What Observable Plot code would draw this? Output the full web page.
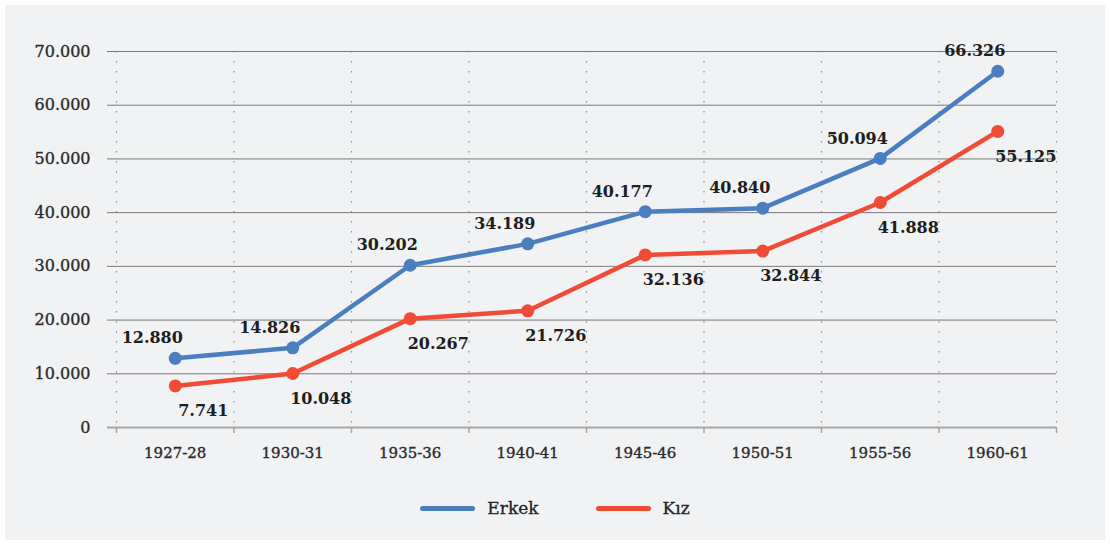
<!DOCTYPE html>
<html>
<head>
<meta charset="utf-8">
<script src="https://cdn.jsdelivr.net/npm/d3@7"></script>
<script src="https://cdn.jsdelivr.net/npm/@observablehq/plot@0.6"></script>
<style>
  html, body { margin: 0; padding: 0; background: #ffffff; }
  #wrap { position: relative; width: 1110px; height: 544px; overflow: hidden; }
  #panel { position: absolute; left: 5px; top: 5px; width: 1100px; height: 535px; background: #f1f2f4; }
  #chart { position: absolute; left: 0; top: 0; }
  #chart svg g[aria-label="y-axis tick label"] text,
  #chart svg g[aria-label="x-axis tick label"] text { stroke: #2a2a2a; stroke-width: 0.35px; }
  #legend { position: absolute; left: 0; top: 496px; width: 1110px; height: 24px; display: flex; justify-content: center; align-items: center; font-family: "DejaVu Serif", serif; font-size: 17px; color: #222; -webkit-text-stroke: 0.3px #222; }
  .item { display: flex; align-items: center; }
  .item + .item { margin-left: 57px; }
  .sw { display: inline-block; width: 55px; height: 5px; border-radius: 3px; margin-right: 12px; }
</style>
</head>
<body>
<div id="wrap">
  <div id="panel"></div>
  <div id="chart"></div>
  <div id="legend"></div>
</div>
<script>
const categories = ["1927-28", "1930-31", "1935-36", "1940-41", "1945-46", "1950-51", "1955-56", "1960-61"];
const erkek = [12880, 14826, 30202, 34189, 40177, 40840, 50094, 66326];
const kiz = [7741, 10048, 20267, 21726, 32136, 32844, 41888, 55125];
const seriesNames = ["Erkek", "Kız"];
const seriesColors = ["#4a7ebf", "#ef4b36"];
const yTicks = [0, 10000, 20000, 30000, 40000, 50000, 60000, 70000];

const locale = d3.formatLocale({decimal: ",", thousands: ".", grouping: [3], currency: ["", ""]});
const fmt = locale.format(",");

const data = [
  ...categories.map((c, i) => ({period: c, value: erkek[i], series: "Erkek"})),
  ...categories.map((c, i) => ({period: c, value: kiz[i], series: "Kız"}))
];

const W = 1110, H = 470, mL = 116, mR = 54, mT = 51, mB = 43;
const step = (W - mL - mR) / categories.length;
const tickLen = 6 * 70000 / (H - mT - mB);
const last = [categories[categories.length - 1]];

const chart = Plot.plot({
  width: W, height: H,
  marginLeft: mL, marginRight: mR, marginTop: mT, marginBottom: mB,
  style: {background: "transparent", fontFamily: "DejaVu Serif, serif", fontSize: "16px", color: "#2a2a2a"},
  x: {type: "point", domain: categories, padding: 0.5, round: false, label: null},
  y: {domain: [0, 70000], label: null},
  color: {domain: seriesNames, range: seriesColors},
  marks: [
    Plot.ruleY(yTicks.filter(v => v > 0), {stroke: "#7a7a7a", strokeWidth: 1, insetLeft: -9}),
    Plot.ruleX(categories, {x: d => d, dx: -step / 2, stroke: "#8c8c8c", strokeWidth: 1.2, strokeDasharray: "1.5,8.5"}),
    Plot.ruleX(last, {x: d => d, dx: step / 2, stroke: "#8c8c8c", strokeWidth: 1.2, strokeDasharray: "1.5,8.5"}),
    Plot.ruleX(categories, {x: d => d, dx: -step / 2, y1: 0, y2: -tickLen, stroke: "#a6a6a6", strokeWidth: 1.5}),
    Plot.ruleX(last, {x: d => d, dx: step / 2, y1: 0, y2: -tickLen, stroke: "#a6a6a6", strokeWidth: 1.5}),
    Plot.ruleY([0], {stroke: "#a6a6a6", strokeWidth: 2, insetLeft: -9}),
    Plot.axisY({ticks: yTicks, tickFormat: fmt, tickSize: 0, tickPadding: 26, fontSize: 16, fill: "#2a2a2a"}),
    Plot.axisX({tickSize: 0, tickPadding: 20, fontSize: 15, fill: "#2a2a2a"}),
    Plot.line(data, {x: "period", y: "value", stroke: "series", strokeWidth: 4.5, strokeLinejoin: "round"}),
    Plot.dot(data, {x: "period", y: "value", fill: "series", r: 6.5}),
    Plot.text(data.filter(d => d.series === "Erkek"), {x: "period", y: "value", text: d => fmt(d.value), dx: -23, dy: -20, fontSize: 16, fontWeight: "bold", fill: "#1e1e1e"}),
    Plot.text(data.filter(d => d.series === "Kız"), {x: "period", y: "value", text: d => fmt(d.value), dx: 28, dy: 25, fontSize: 16, fontWeight: "bold", fill: "#1e1e1e"})
  ]
});
document.getElementById("chart").appendChild(chart);

const legend = document.getElementById("legend");
seriesNames.forEach((name, i) => {
  const item = document.createElement("div");
  item.className = "item";
  const sw = document.createElement("span");
  sw.className = "sw";
  sw.style.background = seriesColors[i];
  const label = document.createElement("span");
  label.textContent = name;
  item.appendChild(sw);
  item.appendChild(label);
  legend.appendChild(item);
});
</script>
</body>
</html>
